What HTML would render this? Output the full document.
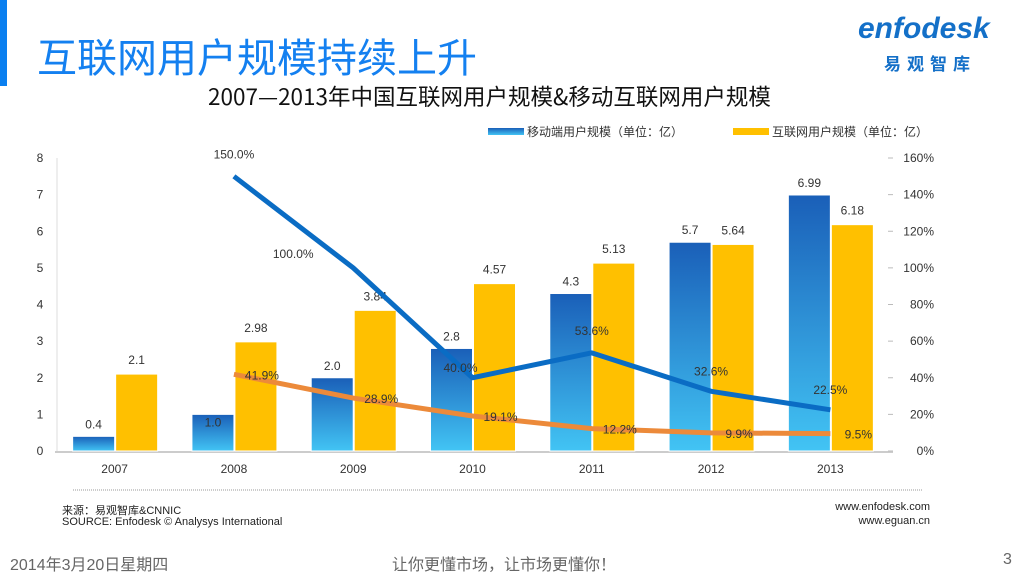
<!DOCTYPE html>
<html><head><meta charset="utf-8"><style>
body{margin:0;width:1024px;height:576px;background:#fff;overflow:hidden;position:relative;font-family:"Liberation Sans","Noto Sans CJK SC",sans-serif}
.abs{position:absolute;white-space:nowrap}
</style></head><body>
<div class="abs" style="left:0;top:0;width:7px;height:86px;background:#0a7ff0"></div>
<div class="abs" style="left:37px;top:26px;font-size:40px;color:#1480f0;font-family:'Noto Sans CJK SC',sans-serif">互联网用户规模持续上升</div>
<div class="abs" style="left:858px;top:12px;font-size:30px;font-style:italic;font-weight:bold;color:#1470c8">enfodesk</div>
<div class="abs" style="left:884px;top:50px;font-size:17px;font-weight:bold;color:#1470c8;letter-spacing:6px;font-family:'Noto Sans CJK SC',sans-serif">易观智库</div>
<div class="abs" style="left:208px;top:80px;font-size:22.5px;color:#111;font-family:'Noto Sans CJK SC',sans-serif">2007—2013年中国互联网用户规模&amp;移动互联网用户规模</div>
<svg id="chart" width="1024" height="576" style="position:absolute;left:0;top:0"></svg>
<div class="abs" style="left:62px;top:502px;font-size:11px;color:#222">来源：易观智库&amp;CNNIC</div>
<div class="abs" style="left:62px;top:516px;font-size:11px;color:#222">SOURCE: Enfodesk © Analysys International</div>
<div class="abs" style="right:94px;top:501px;font-size:11px;color:#222">www.enfodesk.com</div>
<div class="abs" style="right:94px;top:515px;font-size:11px;color:#222">www.eguan.cn</div>
<div class="abs" style="left:10px;top:551px;font-size:16px;color:#666">2014年3月20日星期四</div>
<div class="abs" style="left:392px;top:551px;font-size:16px;color:#666">让你更懂市场，让市场更懂你！</div>
<div class="abs" style="left:1003px;top:551px;font-size:16px;color:#666">3</div>
<script>
const years=["2007","2008","2009","2010","2011","2012","2013"];
const mobileUsers=[0.4,1.0,2.0,2.8,4.3,5.7,6.99];
const mobileLabels=["0.4","1.0","2.0","2.8","4.3","5.7","6.99"];
const netUsers=[2.1,2.98,3.84,4.57,5.13,5.64,6.18];
const mobileGrowth=[null,150.0,100.0,40.0,53.6,32.6,22.5];
const netGrowth=[null,41.9,28.9,19.1,12.2,9.9,9.5];
const leftTicks=[0,1,2,3,4,5,6,7,8];
const rightTicks=[0,20,40,60,80,100,120,140,160];
const NS="http://www.w3.org/2000/svg";
const svg=document.getElementById('chart');
const X0=55,X1=890,Y0=451,Y1=158;
const step=(X1-X0)/years.length;
const cx=i=>X0+step*(i+0.5);
const yL=v=>Y0-(v/8)*(Y0-Y1);
const yR=v=>Y0-(v/160)*(Y0-Y1);
function el(t,a){const e=document.createElementNS(NS,t);for(const k in a)e.setAttribute(k,a[k]);svg.appendChild(e);return e;}
function tx(x,y,s,a){const e=el('text',Object.assign({x:x,y:y,'font-size':12,fill:'#333','font-family':'Liberation Sans, Noto Sans CJK SC, sans-serif'},a||{}));e.textContent=s;return e;}
const defs=el('defs',{});
defs.innerHTML='<linearGradient id="bg" x1="0" y1="0" x2="0" y2="1"><stop offset="0" stop-color="#1a5fb8"/><stop offset="1" stop-color="#42c4f4"/></linearGradient>';
let e=el('line',{x1:57,y1:Y1,x2:57,y2:Y0,stroke:'#ddd'});

e=el('line',{x1:55,y1:Y0+1,x2:893,y2:Y0+1,stroke:'#ccc','stroke-width':2});

leftTicks.forEach(v=>{const t=tx(40,yL(v)+4,String(v),{'text-anchor':'middle'});
});
rightTicks.forEach(v=>{
const l=el('line',{x1:888,y1:yR(v),x2:893,y2:yR(v),stroke:'#bbb'});

const t=tx(934,yR(v)+4,v+'%',{'text-anchor':'end'});
});
years.forEach((y,i)=>{
const t=tx(cx(i),473,y,{'text-anchor':'middle'});

const b=el('rect',{x:cx(i)-42,y:yL(mobileUsers[i]),width:42,height:Y0-yL(mobileUsers[i]),fill:'url(#bg)',stroke:'#fff','stroke-width':1});

const c=el('rect',{x:cx(i)+1,y:yL(netUsers[i]),width:42,height:Y0-yL(netUsers[i]),fill:'#ffc000',stroke:'#fff','stroke-width':1});

const m=tx(cx(i)-21,yL(mobileUsers[i])-(i==1?-12:8),mobileLabels[i],{'text-anchor':'middle'});

const n=tx(cx(i)+22,yL(netUsers[i])-10,netUsers[i].toFixed(2).replace(/0$/,'').replace(/\.$/,''),{'text-anchor':'middle'});

});
function line(arr,color,name){let p=[];arr.forEach((v,i)=>{if(v!=null)p.push(cx(i)+','+yR(v));});
const l=el('polyline',{points:p.join(' '),fill:'none',stroke:color,'stroke-width':5,'stroke-linejoin':'round'});
}
line(netGrowth,'#ec8a3a','internet-growth-line');
line(mobileGrowth,'#0a6cc4','mobile-growth-line');
const moff=[null,[0,-18],[-60,-10],[-12,-6],[0,-18],[0,-16],[0,-16]];
mobileGrowth.forEach((v,i)=>{if(v==null)return;const t=tx(cx(i)+moff[i][0],yR(v)+moff[i][1],v.toFixed(1)+'%',{'text-anchor':'middle'});
});
netGrowth.forEach((v,i)=>{if(v==null)return;const t=tx(cx(i)+28,yR(v)+5,v.toFixed(1)+'%',{'text-anchor':'middle'});
});
e=el('rect',{x:488,y:128,width:36,height:7,fill:'url(#bg)'});
e=tx(527,136,'移动端用户规模（单位：亿）',{'font-size':12});
e=el('rect',{x:733,y:128,width:36,height:7,fill:'#ffc000'});
e=tx(772,136,'互联网用户规模（单位：亿）',{'font-size':12});
e=el('line',{x1:73,y1:490,x2:922,y2:490,stroke:'#999','stroke-dasharray':'1,1'});
</script>
</body></html>
